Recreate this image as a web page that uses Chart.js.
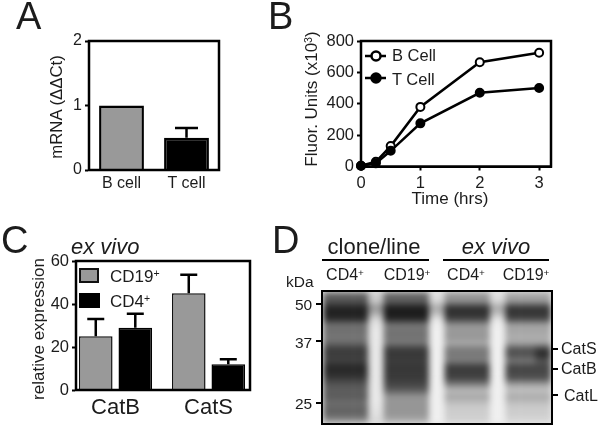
<!DOCTYPE html>
<html><head><meta charset="utf-8">
<script src="https://cdn.jsdelivr.net/npm/chart.js@4"></script>
<style>
html,body{margin:0;padding:0;background:#fff;overflow:hidden}
#page{position:relative;width:600px;height:426px;font-family:"Liberation Sans",Arial,sans-serif;color:#1c1c1c}
#page canvas.full{position:absolute;left:0;top:0}
.t{position:absolute;white-space:nowrap;line-height:1}
.c{transform:translateX(-50%)}
.v{transform:translate(-50%,-50%) rotate(-90deg)}
.r{position:absolute;background:#000}
sup{font-size:.62em;line-height:0;vertical-align:baseline;position:relative;top:-.45em}
#gelWrap{position:absolute;left:323px;top:292px;width:228px;height:131px;overflow:hidden;background:#e6e6e6}
#gelFrame{position:absolute;left:321px;top:290px;width:228px;height:131px;border:2.5px solid #000}
#gel{filter:blur(3px)}
</style></head><body>
<div id="page">
<canvas id="a" class="full" width="600" height="426"></canvas>
<canvas id="b" class="full" width="600" height="426"></canvas>
<canvas id="c" class="full" width="600" height="426"></canvas>
<div id="gelWrap"><canvas id="gel" width="228" height="131"></canvas></div>
<div id="gelFrame"></div>

<div class="t" style="left:16px;top:-3px;font-size:38px">A</div>
<div class="t" style="left:268px;top:-3px;font-size:38px">B</div>
<div class="t" style="left:1px;top:221px;font-size:38px">C</div>
<div class="t" style="left:272px;top:221px;font-size:38px">D</div>

<div class="t v" style="left:57px;top:107px;font-size:16.8px">mRNA (ΔΔCt)</div>
<div class="t v" style="left:311px;top:99px;font-size:17px">Fluor. Units (x10<sup>3</sup>)</div>
<div class="t c" style="left:450px;top:190px;font-size:17px">Time (hrs)</div>
<div class="t v" style="left:38px;top:329px;font-size:17px">relative expression</div>

<div class="t" style="left:392px;top:47px;font-size:16.5px">B Cell</div>
<div class="t" style="left:392px;top:71px;font-size:16.5px">T Cell</div>

<div class="t" style="left:71px;top:236px;font-size:22px;font-style:italic">ex vivo</div>
<div class="r" style="left:79px;top:268px;width:20px;height:15px;background:#999;box-sizing:border-box;border:2px solid #111"></div>
<div class="r" style="left:79px;top:293px;width:21px;height:15px"></div>
<div class="t" style="left:110px;top:268px;font-size:17px">CD19<sup>+</sup></div>
<div class="t" style="left:110px;top:293px;font-size:17px">CD4<sup>+</sup></div>

<div class="t c" style="left:374px;top:236px;font-size:22px">clone/line</div>
<div class="t c" style="left:496px;top:236px;font-size:22px;font-style:italic">ex vivo</div>
<div class="r" style="left:322px;top:259px;width:107px;height:2px"></div>
<div class="r" style="left:443px;top:259px;width:106px;height:2px"></div>
<div class="t c" style="left:345px;top:267px;font-size:16px">CD4<sup>+</sup></div>
<div class="t c" style="left:407px;top:267px;font-size:16px">CD19<sup>+</sup></div>
<div class="t c" style="left:466px;top:267px;font-size:16px">CD4<sup>+</sup></div>
<div class="t c" style="left:526px;top:267px;font-size:16px">CD19<sup>+</sup></div>
<div class="t" style="left:286px;top:274px;font-size:15.5px">kDa</div>
<div class="t" style="left:295px;top:297px;font-size:15.5px">50</div>
<div class="t" style="left:295px;top:335px;font-size:15.5px">37</div>
<div class="t" style="left:295px;top:396px;font-size:15.5px">25</div>
<div class="r" style="left:316px;top:303px;width:6px;height:2px"></div>
<div class="r" style="left:316px;top:340px;width:6px;height:2px"></div>
<div class="r" style="left:316px;top:402px;width:6px;height:2px"></div>
<div class="r" style="left:553px;top:348px;width:5px;height:2px"></div>
<div class="r" style="left:553px;top:368px;width:5px;height:2px"></div>
<div class="r" style="left:553px;top:394px;width:5px;height:2px"></div>
<div class="t" style="left:561px;top:341px;font-size:16px">CatS</div>
<div class="t" style="left:561px;top:361px;font-size:16px">CatB</div>
<div class="t" style="left:564px;top:388px;font-size:16px">CatL</div>
</div>

<script>
// Panel A
const cellTypes = ['B cell', 'T cell'];
const mrna = [1.0, 0.5];
const mrnaErr = [0, 0.15];
const mrnaTicks = [0, 1, 2];

// Panel B
const timeHrs = [0, 0.25, 0.5, 1, 2, 3];
const bCellFluor = [5, 30, 130, 380, 665, 725];
const tCellFluor = [5, 20, 100, 275, 470, 500];
const timeTicks = [0, 1, 2, 3];
const fluorTicks = [0, 200, 400, 600, 800];

// Panel C
const cathepsins = ['CatB', 'CatS'];
const cathepsinSlots = [1, 2];
const cd19Expr = [25, 45];
const cd19Err = [8, 8.6];
const cd4Expr = [29, 12];
const cd4Err = [6.5, 2.3];
const exprTicks = [0, 20, 40, 60];

// Panel D: grey level down each gel lane, top to bottom
const lane1 = [95,85,40,30,45,115,110,120,105,60,60,65,40,40,60,85,95,90,110,100,100,140];
const lane2 = [100,95,35,25,40,120,115,115,120,60,55,60,55,55,60,70,95,150,150,150,150,170];
const lane3 = [150,145,55,45,70,150,155,150,170,125,120,125,60,60,70,130,190,165,190,205,205,210];
const lane4 = [165,155,60,50,75,165,165,175,165,85,80,120,70,70,85,165,195,170,190,205,205,215];
const lane4r = [165,155,60,50,75,165,165,175,165,60,40,85,70,70,85,165,195,170,190,205,205,215];
const gapDark = [205,200,150,170,215,228,232,232,232,232,232,232,232,232,232,232,232,232,232,228,225,215];
const gapLight = [225,215,170,185,228,238,240,240,240,240,240,240,240,240,240,240,240,240,240,240,240,240];
const gelColumns = [lane1,lane1,lane1,gapDark,lane2,lane2,lane2,gapLight,lane3,lane3,lane3,gapLight,lane4,lane4,lane4r];

const INK = '#1c1c1c', FONT = '"Liberation Sans", Arial, sans-serif';
Chart.defaults.font.family = FONT;
Chart.defaults.color = INK;
Chart.defaults.animation = false;

const frame = {
  id: 'frame',
  afterDraw(ch) {
    const {left, top, right, bottom} = ch.chartArea, x = ch.ctx;
    x.save(); x.strokeStyle = '#000'; x.lineWidth = 2.5;
    x.strokeRect(left, top, right - left, bottom - top); x.restore();
  }
};
const errorBars = {
  id: 'errorBars',
  afterDatasetsDraw(ch, _a, o) {
    const x = ch.ctx, ys = ch.scales.y;
    x.save(); x.strokeStyle = '#000'; x.lineWidth = 2.5;
    ch.data.datasets.forEach((d, i) => {
      const meta = ch.getDatasetMeta(i);
      meta.data.forEach((b, j) => {
        const e = d.err[j]; if (!e) return;
        const v = ys.getPixelForValue(meta.controller.getParsed(j).y + e);
        x.beginPath();
        x.moveTo(b.x, b.y); x.lineTo(b.x, v);
        x.moveTo(b.x - o.cap, v); x.lineTo(b.x + o.cap, v);
        x.stroke();
      });
    });
    x.restore();
  }
};
const lineLegend = {
  id: 'lineLegend',
  afterDraw(ch) {
    const x = ch.ctx;
    ch.data.datasets.forEach((d, i) => {
      const y = 56 + (d.label === 'T Cell' ? 22 : 0);
      x.save(); x.strokeStyle = '#000'; x.lineWidth = 2.5;
      x.beginPath(); x.moveTo(365, y); x.lineTo(386, y); x.stroke();
      x.fillStyle = d.pointBackgroundColor;
      x.beginPath(); x.arc(376, y, 4.5, 0, 7); x.fill(); x.stroke(); x.restore();
    });
  }
};
function axisCommon(box, size, ticks) {
  return {
    border: {display: true, color: '#000', width: 2},
    grid: {drawOnChartArea: false, color: '#000', tickWidth: 2, tickLength: 4},
    ticks: {font: {size}, maxRotation: 0, autoSkip: false, padding: 3, ...ticks}
  };
}
function layoutFor(box) {
  return {padding: {top: box.t, right: 600 - box.r, left: 0, bottom: 0}};
}
function yAxis(box, values, min, max, tickSize) {
  return {
    ...axisCommon(box, tickSize),
    min, max,
    afterFit: s => { s.width = box.l; },
    afterBuildTicks: s => { s.ticks = values.map(v => ({value: v})); }
  };
}

// Panel A
const boxA = {l: 89, t: 41, r: 219, b: 170};
new Chart(document.getElementById('a'), {
  type: 'bar',
  data: {labels: cellTypes, datasets: [{
    data: mrna, err: mrnaErr,
    backgroundColor: ['#999999', '#000000'], borderColor: '#000', borderWidth: 2.5,
    barPercentage: 0.69, categoryPercentage: 1
  }]},
  options: {
    responsive: false, layout: layoutFor(boxA),
    plugins: {legend: {display: false}, tooltip: {enabled: false}, errorBars: {cap: 11.5}},
    scales: {
      x: {...axisCommon(boxA, 16), grid: {drawOnChartArea: false, drawTicks: false},
          ticks: {font: {size: 16}, padding: 4}, afterFit: s => { s.height = 426 - boxA.b; }},
      y: yAxis(boxA, mrnaTicks, 0, 2, 16)
    }
  },
  plugins: [frame, errorBars]
});

// Panel B
const boxB = {l: 361, t: 41, r: 551, b: 166.5};
const pts = arr => timeHrs.map((t, i) => ({x: t, y: arr[i]}));
new Chart(document.getElementById('b'), {
  type: 'line',
  data: {datasets: [
    {label: 'B Cell', data: pts(bCellFluor), order: 2, borderColor: '#000', borderWidth: 2.5,
     pointBackgroundColor: '#fff', pointBorderColor: '#000', pointBorderWidth: 2, pointRadius: 4, clip: false},
    {label: 'T Cell', data: pts(tCellFluor), order: 1, borderColor: '#000', borderWidth: 2.5,
     pointBackgroundColor: '#000', pointBorderColor: '#000', pointBorderWidth: 2, pointRadius: 4, clip: false}
  ]},
  options: {
    responsive: false, layout: layoutFor(boxB),
    plugins: {legend: {display: false}, tooltip: {enabled: false}},
    scales: {
      x: {type: 'linear', ...axisCommon(boxB, 16.5), min: 0, max: 3.2,
          afterBuildTicks: s => { s.ticks = timeTicks.map(v => ({value: v})); },
          afterFit: s => { s.height = 426 - boxB.b; }},
      y: yAxis(boxB, fluorTicks, 0, 800, 16.5)
    }
  },
  plugins: [frame, lineLegend]
});

// Panel C
const boxC = {l: 76, t: 261, r: 250, b: 390};
const slotPts = arr => cathepsinSlots.map((s, i) => ({x: s, y: arr[i]}));
new Chart(document.getElementById('c'), {
  type: 'bar',
  data: {datasets: [
    {label: 'CD19+', data: slotPts(cd19Expr), err: cd19Err, backgroundColor: '#999999', borderColor: '#111', borderWidth: 1.5,
     barPercentage: 0.85, categoryPercentage: 0.85},
    {label: 'CD4+', data: slotPts(cd4Expr), err: cd4Err, backgroundColor: '#000000', borderColor: '#000', borderWidth: 1.5,
     barPercentage: 0.85, categoryPercentage: 0.85}
  ]},
  options: {
    responsive: false, layout: layoutFor(boxC),
    plugins: {legend: {display: false}, tooltip: {enabled: false}, errorBars: {cap: 8.5}},
    scales: {
      x: {type: 'linear', offset: false, min: 0.575, max: 2.446,
          ...axisCommon(boxC, 22), grid: {drawOnChartArea: false, drawTicks: false},
          afterBuildTicks: s => { s.ticks = cathepsinSlots.map(v => ({value: v})); },
          ticks: {font: {size: 22}, padding: 5, autoSkip: false, maxRotation: 0,
                  callback: v => cathepsins[cathepsinSlots.indexOf(v)]},
          afterFit: s => { s.height = 426 - boxC.b; }},
      y: yAxis(boxC, exprTicks, 0, 60, 16.5)
    }
  },
  plugins: [frame, errorBars]
});

// Panel D: gel rendered as stacked cells
const gelRows = lane1.map((_, r) => ({
  data: gelColumns.map(() => 1),
  backgroundColor: gelColumns.map(c => `rgb(${c[r]},${c[r]},${c[r]})`),
  borderWidth: 0, barPercentage: 1, categoryPercentage: 1, borderSkipped: false
}));
new Chart(document.getElementById('gel'), {
  type: 'bar',
  data: {labels: gelColumns.map((_, i) => 'col' + i), datasets: gelRows},
  options: {
    responsive: false,
    plugins: {legend: {display: false}, tooltip: {enabled: false}},
    scales: {
      x: {stacked: true, display: false},
      y: {stacked: true, display: false, reverse: true, min: 0, max: lane1.length}
    }
  }
});
</script>
</body></html>
